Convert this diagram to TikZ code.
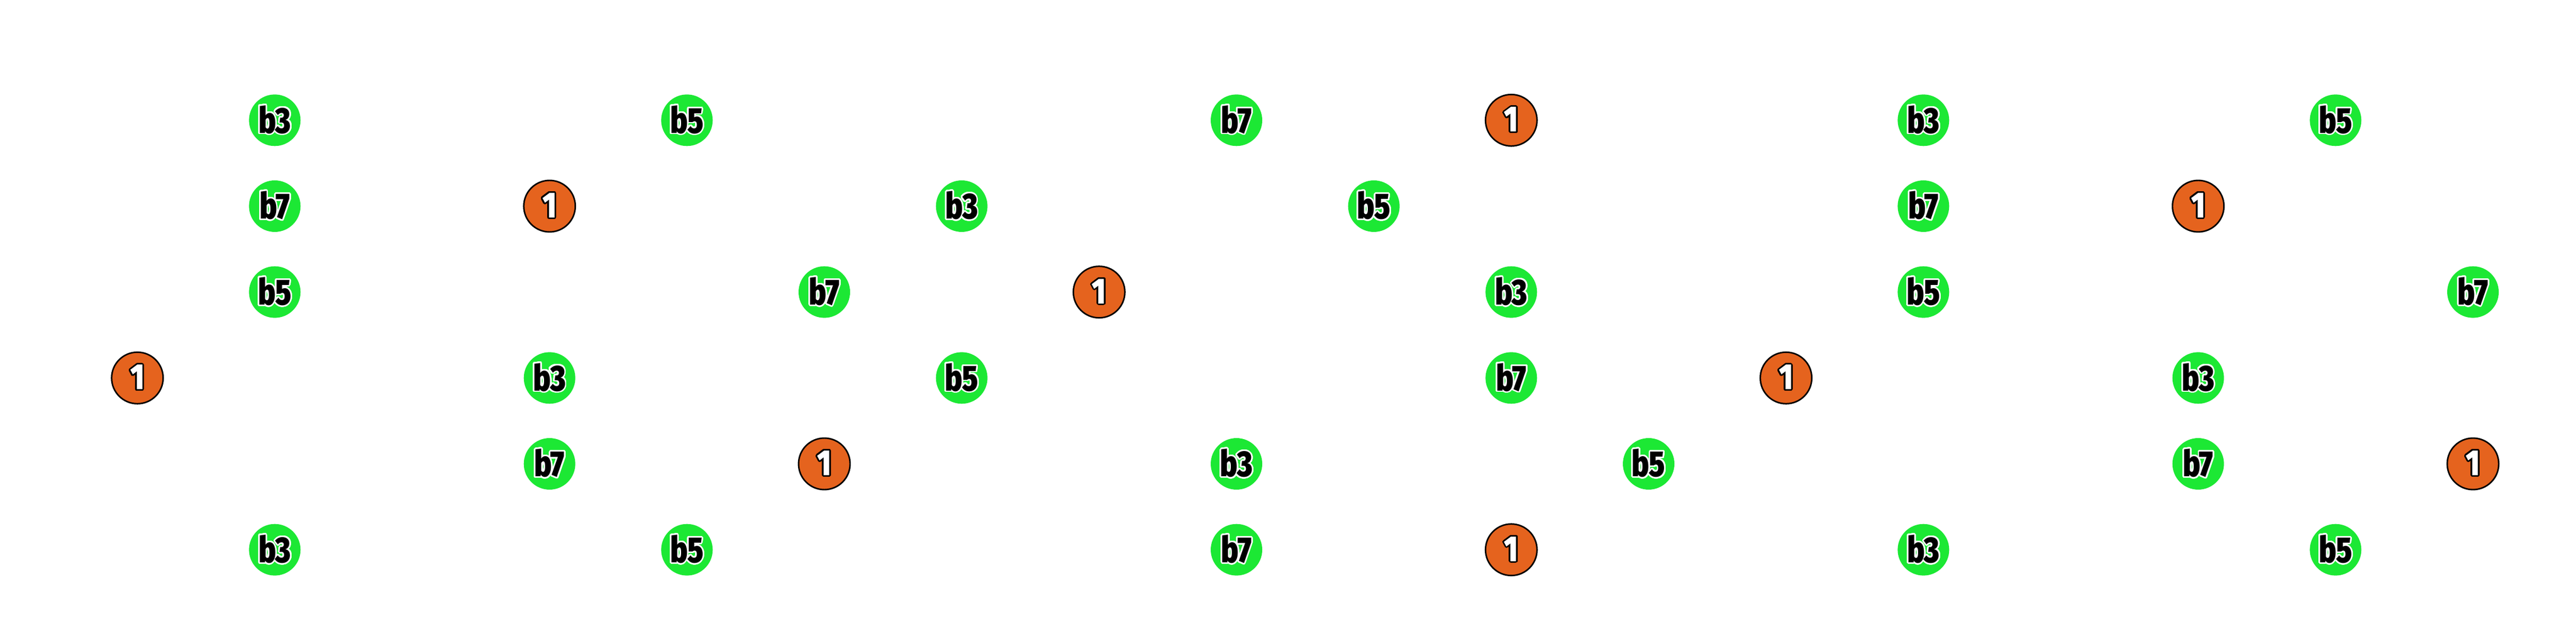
\documentclass[tikz,border=0pt]{standalone}
\usepackage{fontspec}
\usepackage{tikz}
\usepackage[copies]{contour}
\newfontfamily\notefont{Fira Sans}[UprightFont=*-Black,FakeStretch=0.8]
\definecolor{notegreen}{RGB}{28,232,52}
\definecolor{rootorange}{RGB}{229,99,30}
\contourlength{1pt}
\contournumber{32}
\newcommand{\nb}[1]{\contour{white}{\color{black}#1}}
\newcommand{\nr}[1]{\contour{black}{\color{white}#1}}
\tikzset{
  note/.style={circle,minimum size=1.2cm,inner sep=0pt,fill=notegreen,
    font=\notefont\fontsize{24}{24}\selectfont},
  root/.style={note,fill=rootorange,draw=black,line width=1pt}
}

\begin{document}
\begin{tikzpicture}[join=round] % m7 arpeggio: six strings, frets 1 to 18
         \useasboundingbox (0,0) rectangle (60,14.4);
         % string 1
         \node[note] (s1f2) at (6.4,11.6) {\nb{b3}};
         \node[note] (s1f5) at (16,11.6) {\nb{b5}};
         \node[note] (s1f9) at (28.8,11.6) {\nb{b7}};
         \node[root] (s1f11) at (35.2,11.6) {\nr{1}};
         \node[note] (s1f14) at (44.8,11.6) {\nb{b3}};
         \node[note] (s1f17) at (54.4,11.6) {\nb{b5}};
         % string 2
         \node[note] (s2f2) at (6.4,9.6) {\nb{b7}};
         \node[root] (s2f4) at (12.8,9.6) {\nr{1}};
         \node[note] (s2f7) at (22.4,9.6) {\nb{b3}};
         \node[note] (s2f10) at (32,9.6) {\nb{b5}};
         \node[note] (s2f14) at (44.8,9.6) {\nb{b7}};
         \node[root] (s2f16) at (51.2,9.6) {\nr{1}};
         % string 3
         \node[note] (s3f2) at (6.4,7.6) {\nb{b5}};
         \node[note] (s3f6) at (19.2,7.6) {\nb{b7}};
         \node[root] (s3f8) at (25.6,7.6) {\nr{1}};
         \node[note] (s3f11) at (35.2,7.6) {\nb{b3}};
         \node[note] (s3f14) at (44.8,7.6) {\nb{b5}};
         \node[note] (s3f18) at (57.6,7.6) {\nb{b7}};
         % string 4
         \node[root] (s4f1) at (3.2,5.6) {\nr{1}};
         \node[note] (s4f4) at (12.8,5.6) {\nb{b3}};
         \node[note] (s4f7) at (22.4,5.6) {\nb{b5}};
         \node[note] (s4f11) at (35.2,5.6) {\nb{b7}};
         \node[root] (s4f13) at (41.6,5.6) {\nr{1}};
         \node[note] (s4f16) at (51.2,5.6) {\nb{b3}};
         % string 5
         \node[note] (s5f4) at (12.8,3.6) {\nb{b7}};
         \node[root] (s5f6) at (19.2,3.6) {\nr{1}};
         \node[note] (s5f9) at (28.8,3.6) {\nb{b3}};
         \node[note] (s5f12) at (38.4,3.6) {\nb{b5}};
         \node[note] (s5f16) at (51.2,3.6) {\nb{b7}};
         \node[root] (s5f18) at (57.6,3.6) {\nr{1}};
         % string 6
         \node[note] (s6f2) at (6.4,1.6) {\nb{b3}};
         \node[note] (s6f5) at (16,1.6) {\nb{b5}};
         \node[note] (s6f9) at (28.8,1.6) {\nb{b7}};
         \node[root] (s6f11) at (35.2,1.6) {\nr{1}};
         \node[note] (s6f14) at (44.8,1.6) {\nb{b3}};
         \node[note] (s6f17) at (54.4,1.6) {\nb{b5}};
      \end{tikzpicture}
\end{document}
